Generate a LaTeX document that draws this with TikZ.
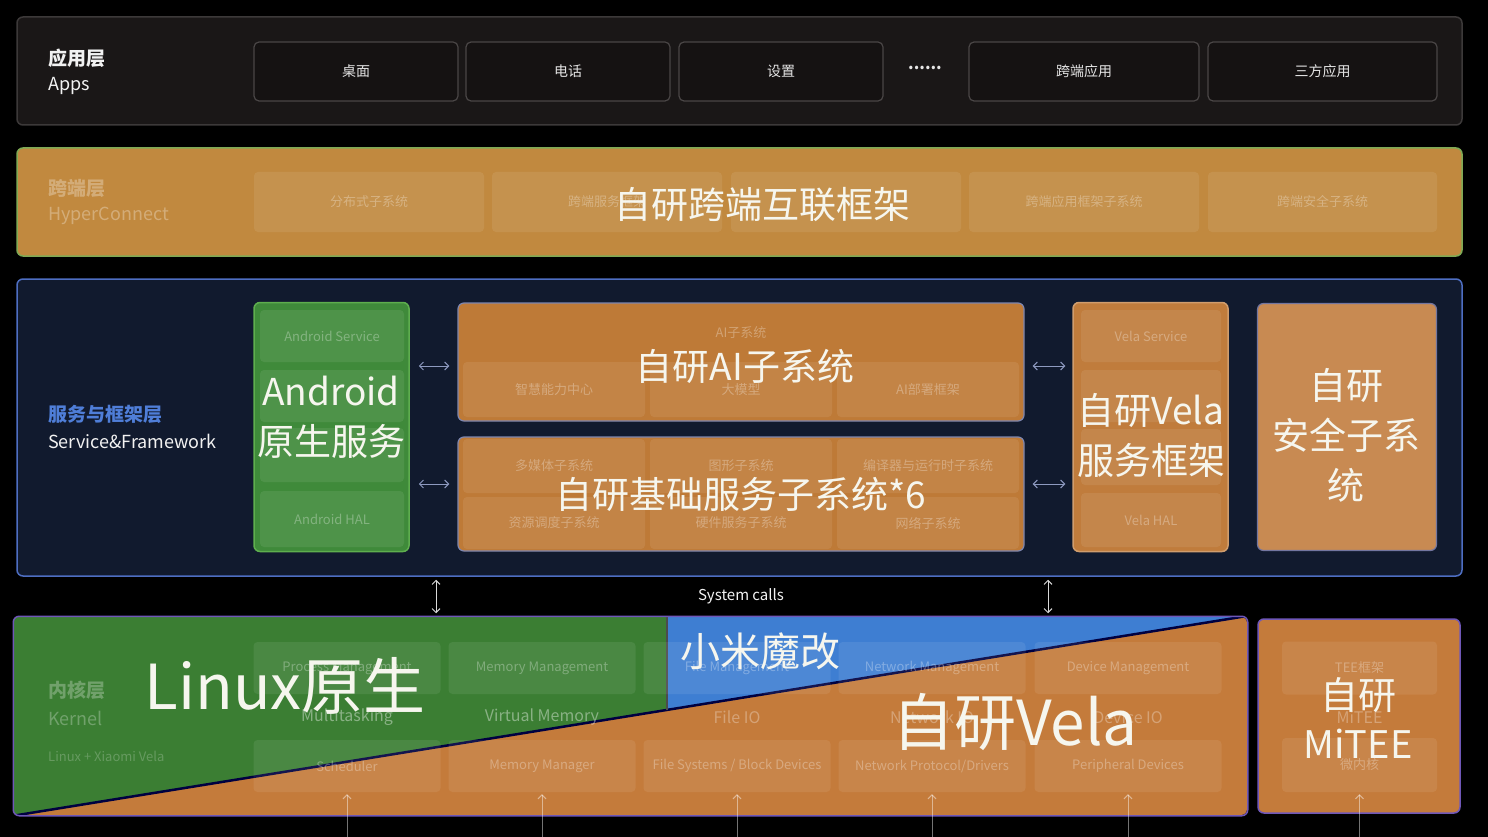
\documentclass[tikz,border=0pt]{standalone}
\usepackage{fontspec}
\setmainfont{Noto Sans CJK SC}
\usetikzlibrary{arrows.meta}

\definecolor{appfill}{HTML}{1A1717}
\definecolor{appline}{HTML}{3C3939}
\definecolor{boxline}{HTML}{4A4646}
\definecolor{hcfill}{HTML}{C1893F}
\definecolor{hcline}{HTML}{7FAA55}
\definecolor{svcfill}{HTML}{111A2E}
\definecolor{svcline}{HTML}{4E6EC2}
\definecolor{svcblue}{HTML}{4F7ED8}
\definecolor{andgreen}{HTML}{3F8A3A}
\definecolor{andline}{HTML}{5EAE4E}
\definecolor{aior}{HTML}{BE7A37}
\definecolor{ailine}{HTML}{7E86AE}
\definecolor{velaor}{HTML}{C07C3C}
\definecolor{secor}{HTML}{C88A52}
\definecolor{kernor}{HTML}{C47B3B}
\definecolor{kerngreen}{HTML}{3B7E33}
\definecolor{kernblue}{HTML}{3E7ED2}
\definecolor{kernline}{HTML}{6F57B8}
\definecolor{bigwhite}{HTML}{F6F6EE}
\definecolor{arrowgray}{HTML}{8E9AC0}

\begin{document}
\begin{tikzpicture}[x=1pt, y=-1pt,
    layer/.style={draw, line width=1.5pt, rounded corners=6pt, inner sep=0pt},
    appbox/.style={draw=boxline, line width=1.2pt, fill=appfill!80!black, rounded corners=5pt, minimum height=59pt, text=white!80!gray, font=\fontsize{14}{16}\selectfont},
    subbox/.style={fill=white, fill opacity=0.08, rounded corners=4pt, text=white, text opacity=0.3, font=\fontsize{13}{15}\selectfont, inner sep=0pt},
    faint/.style={text=white, text opacity=0.3, inner sep=0pt, font=\fontsize{13}{15}\selectfont},
    lname/.style={anchor=west, inner sep=0pt, font=\fontsize{19}{22}\selectfont},
    bigtext/.style={text=bigwhite, align=center, inner sep=0pt, font=\fontsize{37}{50}\selectfont},
    hugetext/.style={text=bigwhite, inner sep=0pt, font=\fontsize{62}{70}\selectfont},
    dblarrow/.style={{Straight Barb[length=4pt,width=8pt]}-{Straight Barb[length=4pt,width=8pt]}, arrowgray, line width=1pt},
    uparrow/.style={-{Straight Barb[length=4pt,width=8pt]}, white, draw opacity=0.45, line width=1pt}
]
    \fill[black] (0,0) rectangle (1488,837);
    \useasboundingbox (0,0) rectangle (1488,837);

    % apps layer
    \node[layer, draw=appline, fill=appfill, minimum width=1445pt, minimum height=108pt] (apps) at (739.5,71) {};
    \node[lname, text=white!90!gray] (appsCN) at (48,58) {\bfseries 应用层};
    \node[lname, text=white!90!gray, font=\fontsize{18}{20}\selectfont] (appsEN) at (48,86) {Apps};
    \node[appbox, minimum width=204pt] (desk) at (356,71.5) {桌面};
    \node[appbox, minimum width=204pt] (phone) at (568,71.5) {电话};
    \node[appbox, minimum width=204pt] (setting) at (781,71.5) {设置};
    \node[text=white!80!gray, font=\fontsize{16}{16}\selectfont\bfseries] (dots) at (925,68) {......};
    \node[appbox, minimum width=230pt] (crossapp) at (1084,71.5) {跨端应用};
    \node[appbox, minimum width=229pt] (thirdapp) at (1322.5,71.5) {三方应用};

    % hyperconnect layer
    \node[layer, draw=hcline, fill=hcfill, minimum width=1445pt, minimum height=108pt] (hyper) at (739.5,202) {};
    \node[lname, text=white, text opacity=0.3] (hyperCN) at (48,188) {\bfseries 跨端层};
    \node[lname, text=white, text opacity=0.3, font=\fontsize{18}{20}\selectfont] (hyperEN) at (48,216) {HyperConnect};
    \node[subbox, minimum width=230pt, minimum height=60pt] (dist) at (369,202) {分布式子系统};
    \node[subbox, minimum width=230pt, minimum height=60pt] (xsvc) at (607,202) {跨端服务框架};
    \node[subbox, minimum width=230pt, minimum height=60pt] (xmid) at (846,202) {};
    \node[subbox, minimum width=230pt, minimum height=60pt] (xframe) at (1084,202) {跨端应用框架子系统};
    \node[subbox, minimum width=229pt, minimum height=60pt] (xsec) at (1322.5,202) {跨端安全子系统};
    \node[bigtext] (hyperBig) at (762,205) {自研跨端互联框架};

    % service & framework layer
    \node[layer, draw=svcline, fill=svcfill, minimum width=1445pt, minimum height=297pt] (svc) at (739.5,427.5) {};
    \node[lname, text=svcblue] (svcCN) at (48,414) {\bfseries 服务与框架层};
    \node[lname, text=white!90!gray, font=\fontsize{18}{20}\selectfont] (svcEN) at (48,441) {Service\&Framework};
    % android column
    \node[layer, draw=andline, fill=andgreen, minimum width=155pt, minimum height=249pt] (andr) at (331.5,427) {};
    \node[subbox, minimum width=144pt, minimum height=52pt] (andSvc) at (332,336) {Android Service};
    \node[subbox, minimum width=144pt, minimum height=52pt] (andB) at (332,396) {};
    \node[subbox, minimum width=144pt, minimum height=54pt] (andC) at (332,455) {};
    \node[subbox, minimum width=144pt, minimum height=56pt] (andHal) at (332,519) {Android HAL};
    \node[bigtext] (andBig) at (331,417.5) {Android\\原生服务};
    % ai subsystem
    \node[layer, draw=ailine, line width=1.2pt, fill=aior, minimum width=566pt, minimum height=118pt] (ai) at (741,362) {};
    \node[faint] (aiTitle) at (741,333) {AI子系统};
    \node[subbox, minimum width=182pt, minimum height=55pt] (aiA) at (554,389.5) {智慧能力中心};
    \node[subbox, minimum width=182pt, minimum height=55pt] (aiB) at (741,389.5) {大模型};
    \node[subbox, minimum width=182pt, minimum height=55pt] (aiC) at (928,389.5) {AI部署框架};
    \node[bigtext] (aiBig) at (745,366) {自研AI子系统};
    % base services
    \node[layer, draw=ailine, line width=1.2pt, fill=aior, minimum width=566pt, minimum height=114pt] (base) at (741,494) {};
    \node[subbox, minimum width=182pt, minimum height=54pt] (media) at (554,466) {多媒体子系统};
    \node[subbox, minimum width=182pt, minimum height=54pt] (graph) at (741,466) {图形子系统};
    \node[subbox, minimum width=182pt, minimum height=54pt] (comp) at (928,466) {编译器与运行时子系统};
    \node[subbox, minimum width=182pt, minimum height=52pt] (sched) at (554,523) {资源调度子系统};
    \node[subbox, minimum width=182pt, minimum height=52pt] (hwsvc) at (741,523) {硬件服务子系统};
    \node[subbox, minimum width=182pt, minimum height=52pt] (net) at (928,523) {网络子系统};
    \node[bigtext] (baseBig) at (741,494) {自研基础服务子系统*6};
    % vela column
    \node[layer, draw=velaor!75!white, fill=velaor, minimum width=155pt, minimum height=249pt] (vela) at (1150.5,427) {};
    \node[subbox, minimum width=140pt, minimum height=52pt] (velaSvc) at (1151,336) {Vela Service};
    \node[subbox, minimum width=140pt, minimum height=52pt] (velaB) at (1151,396) {};
    \node[subbox, minimum width=140pt, minimum height=56pt] (velaC) at (1151,457) {};
    \node[subbox, minimum width=140pt, minimum height=54pt] (velaHal) at (1151,520) {Vela HAL};
    \node[bigtext] (velaBig) at (1151,435.5) {自研Vela\\服务框架};
    % security column
    \node[layer, draw=svcline!70!secor, line width=1.2pt, fill=secor, minimum width=179pt, minimum height=247pt] (sec) at (1347,427) {};
    \node[bigtext] (secBig) at (1346,435) {自研\\安全子系\\统};
    % arrows between columns
    \draw[dblarrow, shorten <=9pt, shorten >=8pt] (andr.east |- 0,366) -- (ai.west |- 0,366);
    \draw[dblarrow, shorten <=9pt, shorten >=8pt] (andr.east |- 0,484) -- (base.west |- 0,484);
    \draw[dblarrow, shorten <=8pt, shorten >=7pt] (ai.east |- 0,366) -- (vela.west |- 0,366);
    \draw[dblarrow, shorten <=8pt, shorten >=7pt] (base.east |- 0,484) -- (vela.west |- 0,484);

    % kernel layer
    \node[layer, draw=none, fill=kernor, minimum width=1233pt, minimum height=198pt] (kern) at (630.5,716) {};
    \coordinate (split) at (667,710);
    \coordinate (splitTop) at (667,617);
    \coordinate (diagEnd) at (1247,616);
    \begin{scope}
        \clip[rounded corners=6pt] (kern.north west) rectangle (kern.south east);
        \fill[kerngreen] (kern.north west) -- (splitTop) -- (split) -- (kern.south west) -- cycle;
        \fill[kernblue] (splitTop) -- (kern.north east) -- (diagEnd) -- (split) -- cycle;
        \draw[line width=2.5pt, black!75!blue] (kern.south west) -- (diagEnd);
        \draw[line width=1.2pt, black!70] (splitTop) -- (split);
    \end{scope}
    \draw[kernline, line width=1.5pt, rounded corners=6pt] (kern.north west) rectangle (kern.south east);
    \node[lname, text=white, text opacity=0.28] (kernCN) at (48,690) {\bfseries 内核层};
    \node[lname, text=white, text opacity=0.28, font=\fontsize{18}{20}\selectfont] (kernEN) at (48,718) {Kernel};
    \node[lname, text=white, text opacity=0.22, font=\fontsize{13}{15}\selectfont] (kernSub) at (48,756) {Linux + Xiaomi Vela};
    \node[subbox, minimum width=187pt, minimum height=52pt] (procM) at (347,668) {Process Management};
    \node[subbox, minimum width=187pt, minimum height=52pt] (memM) at (542,668) {Memory Management};
    \node[subbox, minimum width=187pt, minimum height=52pt] (fileM) at (737,668) {File Management};
    \node[subbox, minimum width=187pt, minimum height=52pt] (netM) at (932,668) {Network Management};
    \node[subbox, minimum width=187pt, minimum height=52pt] (devM) at (1128,668) {Device Management};
    \node[faint, text opacity=0.4, font=\fontsize{16}{18}\selectfont] (multi) at (347,717) {Multitasking};
    \node[faint, text opacity=0.4, font=\fontsize{16}{18}\selectfont] (vmem) at (542,717) {Virtual Memory};
    \node[faint, text opacity=0.3, font=\fontsize{16}{18}\selectfont] (fileIO) at (737,717) {File IO};
    \node[faint, text opacity=0.3, font=\fontsize{16}{18}\selectfont] (netIO) at (932,717) {Network IO};
    \node[faint, text opacity=0.3, font=\fontsize{16}{18}\selectfont] (devIO) at (1128,717) {Device IO};
    \node[subbox, minimum width=187pt, minimum height=52pt] (schedK) at (347,766) {Scheduler};
    \node[subbox, minimum width=187pt, minimum height=52pt] (memK) at (542,766) {Memory Manager};
    \node[subbox, minimum width=187pt, minimum height=52pt] (fsK) at (737,766) {File Systems / Block Devices};
    \node[subbox, minimum width=187pt, minimum height=52pt] (netK) at (932,766) {Network Protocol/Drivers};
    \node[subbox, minimum width=187pt, minimum height=52pt] (perK) at (1128,766) {Peripheral Devices};
    \node[hugetext] (linuxBig) at (285,686) {Linux原生};
    \node[bigtext, font=\fontsize{40}{44}\selectfont] (miBig) at (760,651) {小米魔改};
    \node[hugetext] (velaKBig) at (1015,722) {自研Vela};
    % mitee
    \node[layer, draw=kernline, fill=kernor, minimum width=202pt, minimum height=194pt] (mitee) at (1359,716) {};
    \node[subbox, minimum width=155pt, minimum height=53pt] (teeF) at (1359.5,668) {TEE框架};
    \node[faint, font=\fontsize{16}{18}\selectfont] (miteeSub) at (1359.5,717) {MiTEE};
    \node[subbox, minimum width=155pt, minimum height=54pt] (micro) at (1359.5,765) {微内核};
    \node[bigtext, font=\fontsize{38}{49}\selectfont] (miteeBig) at (1358,717.5) {自研\\MiTEE};

    % system calls
    \node[text=white!90!gray, font=\fontsize{15}{17}\selectfont] (syscall) at (741,596) {System calls};
    \draw[dblarrow, white!70!gray, shorten <=3pt, shorten >=3pt] (svc.south -| 436,0) -- (kern.north -| 436,0);
    \draw[dblarrow, white!70!gray, shorten <=3pt, shorten >=3pt] (svc.south -| 1048,0) -- (kern.north -| 1048,0);
    % arrows from below
    \foreach \n in {schedK, memK, fsK, netK, perK, micro}
        \draw[uparrow, shorten >=2pt] (\n.south |- 0,837) -- (\n.south);
\end{tikzpicture}
\end{document}
